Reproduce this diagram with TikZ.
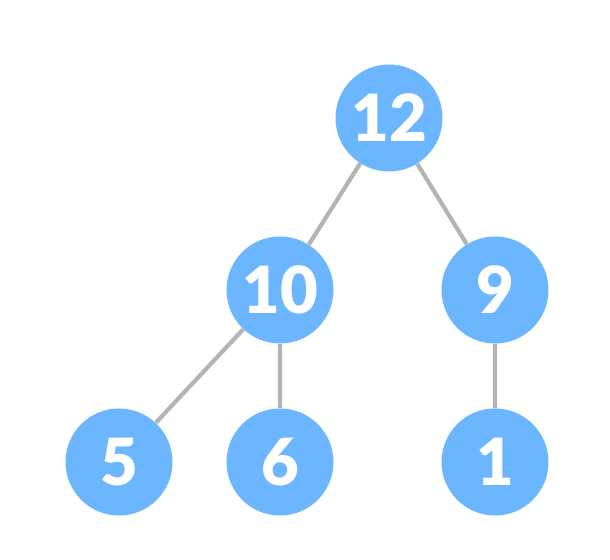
\documentclass[tikz,border=0pt]{standalone}
\usepackage{fontspec}
\setmainfont{Lato}[BoldFont={Lato Black}]
\usepackage{tikz}
\usetikzlibrary{positioning}
\usepackage{xcolor}
\definecolor{mblue}{HTML}{6CB5FF}
\definecolor{mgrey}{HTML}{B4B4B4}
\tikzstyle{node}=[circle, fill=mblue, minimum size=2.14cm, inner sep=0pt, text=white, font=\fontsize{37}{40}\selectfont\bfseries]
\tikzstyle{l1}=[line width=2.4pt, color=mgrey]
\begin{document}
\begin{tikzpicture}
    \useasboundingbox (0,0) rectangle (12.2,11.2);
    \node (n12) [node] at (7.78, 8.84) {12};
    \node (n10) [node] at (5.6, 5.4) {10};
    \node (n9) [node] at (9.9, 5.4) {9};
    \node (n5) [node] at (2.38, 1.96) {5};
    \node (n6) [node] at (5.6, 1.96) {6};
    \node (n1) [node] at (9.9, 1.96) {1};
    \draw[l1] (n12) -- (n10) (n12) -- (n9);
    \draw[l1] (n10) -- (n5) (n10) -- (n6) (n9) -- (n1);
\end{tikzpicture}
\end{document}
